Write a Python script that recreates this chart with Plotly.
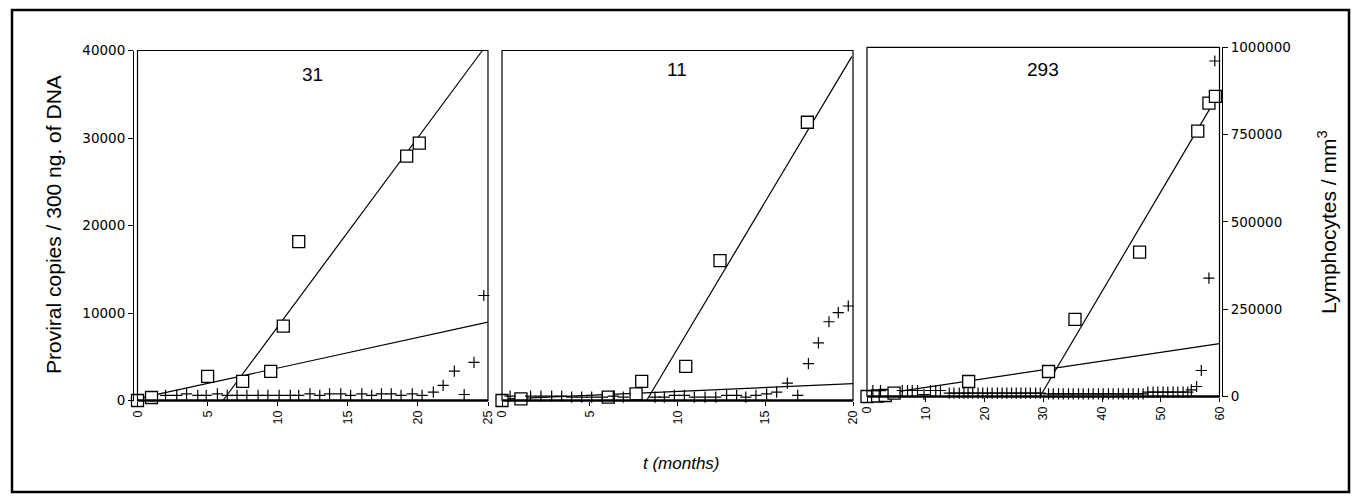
import plotly.graph_objects as go

W, H = 1360, 502

# ---------------- data ----------------
# Panel "31"
p1_sq_t = [0, 1.0, 5.0, 7.5, 9.5, 10.4, 11.5, 19.2, 20.1]
p1_sq_v = [0, 345, 2760, 2180, 3330, 8500, 18160, 27930, 29425]
p1_cr_t = [2.0, 2.8, 3.5, 4.3, 4.9, 5.7, 6.4, 7.1, 7.8, 8.6, 9.3, 10.1, 10.9, 11.5,
           12.3, 13.0, 13.7, 14.5, 15.2, 16.0, 16.7, 17.4, 18.1, 18.8, 19.6, 20.3,
           21.1, 21.8, 22.6, 23.3, 24.0, 24.7]
p1_cr_v = [14400, 14400, 19200, 14400, 14400, 19200, 14400, 14400, 14400, 14400, 14400,
           14400, 14400, 14400, 19200, 14400, 19200, 19200, 14400, 19200, 14400, 19200,
           19200, 14400, 19200, 14400, 24000, 43100, 84000, 17200, 109000, 300000]
p1_fit1_t = [6.1, 24.6]
p1_fit1_v = [0, 40000]
p1_fit2_t = [0, 25]
p1_fit2_v = [208, 8950]

# Panel "11"
p2_sq_t = [0, 1.08, 6.06, 7.64, 7.96, 10.47, 12.42, 17.40]
p2_sq_v = [0, 192, 383, 766, 2184, 3908, 15980, 31800]
p2_cr_t = [0.46, 1.63, 2.22, 2.83, 3.40, 3.97, 4.54, 5.11, 5.72, 6.34, 6.91, 8.72, 9.25,
           9.82, 10.39, 10.96, 11.57, 12.18, 12.80, 13.37, 13.89, 14.47, 15.08, 15.65,
           16.26, 16.85, 17.46, 18.03, 18.63, 19.16, 19.73]
p2_cr_v = [12450, 12450, 12450, 12450, 12450, 9580, 9580, 9580, 9580, 12450, 9580, 9580,
           9580, 14370, 14370, 9580, 9580, 9580, 14370, 14370, 9580, 14370, 19160, 23900,
           49800, 14370, 105400, 164800, 225000, 251000, 270000]
p2_fit1_t = [8.24, 19.93]
p2_fit1_v = [0, 39300]
p2_fit2_t = [0, 20]
p2_fit2_v = [150, 1920]

# Panel "293"
p3_sq_t = [0, 1.8, 3.1, 4.6, 17.3, 30.9, 35.4, 46.4, 56.3, 58.2, 59.3]
p3_sq_v = [0, 60, 115, 380, 1720, 2865, 8830, 16540, 30400, 33610, 34380]
p3_cr_t = [1.0, 2.3, 6.0, 6.9, 7.7, 8.6, 9.7, 10.8, 11.7, 12.5, 14.0, 14.8, 15.7, 16.5,
           17.2, 18.0, 18.9, 19.7, 20.5, 21.3, 22.2, 23.0, 23.8, 24.6, 25.4, 26.2, 27.0,
           27.8, 28.7, 29.5, 30.9, 31.7, 32.6, 33.4, 34.3, 35.1, 36.0, 36.8, 37.7, 38.5,
           39.4, 40.2, 41.1, 41.9, 42.8, 43.6, 44.5, 45.3, 46.2, 47.0, 47.8, 48.7, 49.5,
           50.4, 51.2, 52.1, 52.9, 53.8, 54.6, 55.2, 56.1, 56.9, 58.2, 59.2]
p3_cr_v = [17000, 17000, 17200, 17200, 17200, 17200, 5700, 17200, 17200, 17200, 9500, 9500,
           9500, 9500, 9500, 9500, 9500, 9500, 9500, 9500, 9500, 9500, 9500, 9500, 9500,
           9500, 9500, 9500, 9500, 9500, 7700, 7700, 7700, 7700, 7700, 7700, 7700, 7700,
           7700, 7700, 7700, 7700, 7700, 7700, 7700, 7700, 7700, 7700, 7700, 7700, 12300,
           12300, 12300, 12300, 12300, 12300, 12300, 12300, 12300, 19200, 28650, 74500,
           339000, 960700]
p3_fit1_t = [29.45, 59.3]
p3_fit1_v = [0, 34040]
p3_fit2_t = [0, 60]
p3_fit2_v = [40, 6050]

panel_titles = ["31", "11", "293"]
x_ticks = [[0, 5, 10, 15, 20, 25], [0, 5, 10, 15, 20], [0, 10, 20, 30, 40, 50, 60]]
x_ranges = [[0, 25], [0, 20], [0, 60]]
left_ticks = [0, 10000, 20000, 30000, 40000]
right_ticks = [0, 250000, 500000, 750000, 1000000]

# ---------------- layout geometry (pixels) ----------------
def px(x):
    return x / W

def py(y):
    return (H - y) / H

x_domains = [[px(137.5), px(488)], [px(502), px(853)], [px(867), px(1219.5)]]
y_domains = [[py(400.5), py(50.5)], [py(400.5), py(50.5)], [py(396.5), py(47.3)]]

fig = go.Figure()

panels = [
    (p1_sq_t, p1_sq_v, p1_cr_t, p1_cr_v, p1_fit1_t, p1_fit1_v, p1_fit2_t, p1_fit2_v),
    (p2_sq_t, p2_sq_v, p2_cr_t, p2_cr_v, p2_fit1_t, p2_fit1_v, p2_fit2_t, p2_fit2_v),
    (p3_sq_t, p3_sq_v, p3_cr_t, p3_cr_v, p3_fit1_t, p3_fit1_v, p3_fit2_t, p3_fit2_v),
]

line_style = dict(color="black", width=1.2)
for i, (sq_t, sq_v, cr_t, cr_v, f1t, f1v, f2t, f2v) in enumerate(panels):
    xa = "x" if i == 0 else f"x{i+1}"
    ya = "y" if i == 0 else f"y{2*i+1}"
    yl = f"y{2*i+2}"
    fig.add_trace(go.Scatter(x=f1t, y=f1v, mode="lines", line=line_style,
                             xaxis=xa, yaxis=ya, showlegend=False, hoverinfo="skip"))
    fig.add_trace(go.Scatter(x=f2t, y=f2v, mode="lines", line=line_style,
                             xaxis=xa, yaxis=ya, showlegend=False, hoverinfo="skip"))
    fig.add_trace(go.Scatter(x=sq_t, y=sq_v, mode="markers", xaxis=xa, yaxis=ya,
                             marker=dict(symbol="square", size=12, color="white",
                                         line=dict(color="black", width=1.3)),
                             cliponaxis=False, showlegend=False))
    fig.add_trace(go.Scatter(x=cr_t, y=cr_v, mode="markers", xaxis=xa, yaxis=yl,
                             marker=dict(symbol="cross-thin-open", size=8, color="black",
                                         line=dict(color="black", width=1.2)),
                             cliponaxis=False, showlegend=False))

xtickfont = dict(family="Liberation Sans, Arial, sans-serif", size=12.5, color="black")
ytickfont = dict(family="DejaVu Sans, sans-serif", size=13.5, color="black")
layout = dict(
    width=W, height=H,
    margin=dict(l=0, r=0, t=0, b=0, pad=0, autoexpand=False),
    paper_bgcolor="white", plot_bgcolor="rgba(0,0,0,0)",
    font=xtickfont,
    showlegend=False,
)

for i in range(3):
    xk = "xaxis" if i == 0 else f"xaxis{i+1}"
    yk = "yaxis" if i == 0 else f"yaxis{2*i+1}"
    ylk = f"yaxis{2*i+2}"
    ya = "y" if i == 0 else f"y{2*i+1}"
    xa = "x" if i == 0 else f"x{i+1}"
    layout[xk] = dict(domain=x_domains[i], anchor=ya, range=x_ranges[i],
                      tickvals=x_ticks[i], ticks="outside", ticklen=4, tickwidth=1,
                      tickcolor="black", tickangle=-90, showgrid=False, zeroline=False,
                      showline=False, tickfont=xtickfont, fixedrange=True,
                      automargin=False)
    base = dict(domain=y_domains[i], range=[0, 40000], showgrid=False, zeroline=False,
                fixedrange=True, automargin=False)
    if i == 0:
        base.update(anchor="free", position=px(133), showline=True, linecolor="black",
                    linewidth=1, ticks="outside", ticklen=5, tickcolor="black",
                    tickvals=left_ticks, tickformat="d", tickfont=ytickfont)
    else:
        base.update(anchor=xa, visible=False)
    layout[yk] = base
    over = dict(overlaying=ya, range=[0, 1000000], showgrid=False, zeroline=False,
                fixedrange=True, automargin=False)
    if i == 2:
        over.update(anchor="free", position=px(1222), side="right", showline=True,
                    linecolor="black", linewidth=1, ticks="outside", ticklen=5,
                    tickcolor="black", tickvals=right_ticks, tickformat="d",
                    tickfont=ytickfont)
    else:
        over.update(anchor=xa, visible=False)
    layout[ylk] = over

fig.update_layout(**layout)

# panel frames and thick baseline
shapes = []
for i in range(3):
    xa = "x" if i == 0 else f"x{i+1}"
    ya = "y" if i == 0 else f"y{2*i+1}"
    shapes.append(dict(type="rect", xref=f"{xa} domain", yref=f"{ya} domain",
                       x0=0, x1=1, y0=0, y1=1, line=dict(color="black", width=1.2)))
    shapes.append(dict(type="line", xref=f"{xa} domain", yref=f"{ya} domain",
                       x0=0, x1=1, y0=0, y1=0, line=dict(color="black", width=2.5)))
# outer border
shapes.append(dict(type="rect", xref="paper", yref="paper", x0=px(12), x1=px(1349),
                   y0=py(492), y1=py(10), line=dict(color="black", width=2.5)))
fig.update_layout(shapes=shapes)

ann_font = dict(family="Liberation Sans, Arial, sans-serif", size=19, color="black")
title_font = dict(family="Liberation Sans, Arial, sans-serif", size=21, color="black")
annotations = []
title_pos = [(312, 75), (677, 69), (1043, 69)]
for t, (ax_, ay_) in zip(panel_titles, title_pos):
    annotations.append(dict(text=t, x=px(ax_), y=py(ay_), xref="paper", yref="paper",
                            showarrow=False, font=ann_font, xanchor="center",
                            yanchor="middle"))
annotations.append(dict(text="Proviral copies / 300 ng. of DNA", x=px(53), y=py(225),
                        xref="paper", yref="paper", showarrow=False, textangle=-90,
                        font=title_font, xanchor="center", yanchor="middle"))
annotations.append(dict(text="Lymphocytes / mm<sup>3</sup>", x=px(1327), y=py(222),
                        xref="paper", yref="paper", showarrow=False, textangle=-90,
                        font=title_font, xanchor="center", yanchor="middle"))
annotations.append(dict(text="<i>t (months)</i>", x=px(681), y=py(463), xref="paper",
                        yref="paper", showarrow=False,
                        font=dict(family="Liberation Sans, Arial, sans-serif", size=17,
                                  color="black"),
                        xanchor="center", yanchor="middle"))
fig.update_layout(annotations=annotations)

fig.write_html("out.html", config={"displayModeBar": False},
               post_script="document.body.style.margin='0';document.body.style.overflow='hidden';")
